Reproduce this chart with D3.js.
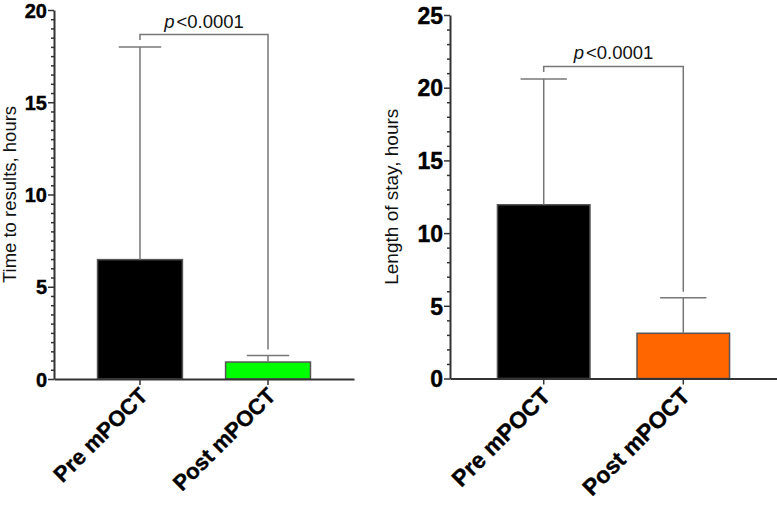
<!DOCTYPE html>
<html>
<head>
<meta charset="utf-8">
<script src="https://cdn.jsdelivr.net/npm/d3@7"></script>
<style>
  body { margin: 0; background: #fff; }
  svg { display: block; }
  text { font-family: "Liberation Sans", Arial, sans-serif; }
</style>
</head>
<body>
<svg id="chart" width="777" height="505"></svg>
<script>
// ---- data ----
const categories = ["Pre mPOCT", "Post mPOCT"];
const timeMeans = [6.47, 0.92];
const timeUpper = [18.0, 1.28];
const stayMeans = [11.95, 3.11];
const stayUpper = [20.6, 5.56];
const timeTicks = [0, 5, 10, 15, 20];
const stayTicks = [0, 5, 10, 15, 20, 25];
const timeColors = ["#000000", "#00ff00"];
const stayColors = ["#000000", "#ff6600"];
const pLabel = "<0.0001";
const timeBracket = 18.67;
const stayBracket = 21.46;

const svg = d3.select("#chart");

function panel(cfg) {
  const g = svg.append("g");
  const y = d3.scaleLinear().domain([0, cfg.ymax]).range([cfg.y0, cfg.y1]);
  const x = d3.scaleBand().domain(categories).range([cfg.x0, cfg.x1])
    .paddingInner(0.337).paddingOuter(0.34);

  // bars
  g.selectAll("rect.bar").data(categories).enter().append("rect")
    .attr("x", d => x(d))
    .attr("width", x.bandwidth())
    .attr("y", (d, i) => y(cfg.means[i]))
    .attr("height", (d, i) => y(0) - y(cfg.means[i]))
    .attr("fill", (d, i) => cfg.colors[i])
    .attr("stroke", "#555")
    .attr("stroke-width", 1.5);

  // error bars (upper only)
  categories.forEach((c, i) => {
    const cx = x(c) + x.bandwidth() / 2;
    g.append("line").attr("x1", cx).attr("x2", cx)
      .attr("y1", y(cfg.means[i])).attr("y2", y(cfg.upper[i]))
      .attr("stroke", "#777").attr("stroke-width", 1.5);
    g.append("line")
      .attr("x1", cx - x.bandwidth() / 4).attr("x2", cx + x.bandwidth() / 4)
      .attr("y1", y(cfg.upper[i])).attr("y2", y(cfg.upper[i]))
      .attr("stroke", "#777").attr("stroke-width", 1.5);
  });

  // significance bracket
  const bx0 = x(categories[0]) + x.bandwidth() / 2;
  const bx1 = x(categories[1]) + x.bandwidth() / 2;
  const by = y(cfg.bracket);
  const path = d3.path();
  path.moveTo(bx0, y(cfg.upper[0]) - 7);
  path.lineTo(bx0, by);
  path.lineTo(bx1, by);
  path.lineTo(bx1, y(cfg.upper[1]) - 6);
  g.append("path").attr("d", path.toString())
    .attr("fill", "none").attr("stroke", "#777").attr("stroke-width", 1.5);
  const pt = g.append("text")
    .attr("x", (bx0 + bx1) / 2).attr("y", by - 7)
    .attr("text-anchor", "middle")
    .attr("font-size", cfg.pSize).attr("fill", "#111");
  pt.append("tspan").attr("font-style", "italic").text("p");
  pt.append("tspan").attr("dx", 2).text(pLabel);

  // y axis
  const minor = d3.range(0, cfg.ymax + 1e-9, cfg.minorStep)
    .filter(v => !cfg.ticks.includes(v));
  g.append("g").attr("transform", `translate(${cfg.x0},0)`)
    .call(d3.axisLeft(y).tickValues(minor).tickSize(3).tickFormat(""))
    .call(a => a.select(".domain").remove())
    .call(a => a.selectAll("line").attr("stroke", "#333").attr("stroke-width", 1.5));
  const ya = g.append("g").attr("transform", `translate(${cfg.x0},0)`)
    .call(d3.axisLeft(y).tickValues(cfg.ticks).tickSize(6).tickSizeOuter(0).tickPadding(1));
  ya.select(".domain").attr("stroke", "#333").attr("stroke-width", 2);
  ya.selectAll(".tick line").attr("stroke", "#333").attr("stroke-width", 1.5);
  ya.selectAll(".tick text")
    .attr("font-weight", "bold").attr("font-size", cfg.tickSize).attr("fill", "#000")
    .attr("stroke", "#000").attr("stroke-width", 0.4)
    .attr("dy", "0.36em");

  // x axis
  const xa = g.append("g").attr("transform", `translate(0,${cfg.y0})`)
    .call(d3.axisBottom(x).tickSize(6).tickSizeOuter(0).tickFormat(""));
  xa.select(".domain").attr("stroke", "#333").attr("stroke-width", 2);
  xa.selectAll(".tick line").attr("stroke", "#333").attr("stroke-width", 1.5);
  categories.forEach(c => {
    const cx = x(c) + x.bandwidth() / 2;
    g.append("text")
      .attr("transform", `translate(${cx + cfg.lblDx},${cfg.y0 + cfg.lblDy}) rotate(-45)`)
      .attr("text-anchor", "end")
      .attr("font-weight", "bold").attr("font-size", cfg.xlblSize).attr("fill", "#000")
      .attr("stroke", "#000").attr("stroke-width", 0.4)
      .text(c);
  });

  // y title
  g.append("text")
    .attr("transform", `translate(${cfg.titleX},${(cfg.y0 + cfg.y1) / 2}) rotate(-90)`)
    .attr("text-anchor", "middle")
    .attr("font-size", cfg.titleSize).attr("fill", "#111")
    .text(cfg.title);
}

panel({
  x0: 54, x1: 354, y0: 379, y1: 10, ymax: 20,
  means: timeMeans, upper: timeUpper, colors: timeColors,
  ticks: timeTicks, minorStep: 0.5, bracket: timeBracket,
  tickSize: 20, pSize: 18.5, xlblSize: 22, lblDx: 9, lblDy: 18,
  titleX: 16, titleSize: 18.5, title: "Time to results, hours"
});
panel({
  x0: 450, x1: 777, y0: 378.5, y1: 15, ymax: 25,
  means: stayMeans, upper: stayUpper, colors: stayColors,
  ticks: stayTicks, minorStep: 1, bracket: stayBracket,
  tickSize: 23, pSize: 18.5, xlblSize: 23, lblDx: 8, lblDy: 19,
  titleX: 398, titleSize: 19, title: "Length of stay, hours"
});
</script>
</body>
</html>
